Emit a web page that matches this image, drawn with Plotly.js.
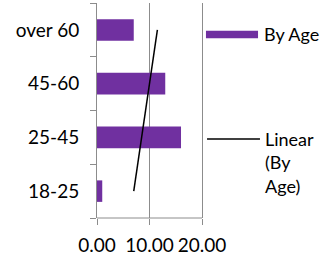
<!DOCTYPE html>
<html><head><meta charset="utf-8">
<script src="https://cdn.plot.ly/plotly-3.0.1.min.js"></script>
<style>html,body{margin:0;padding:0;background:#fff;}#c{width:320px;height:255px;}</style>
</head><body><div id="c"></div>
<script>
const categories = ['18-25', '25-45', '45-60', 'over 60'];
const byAge = [1.0, 16.0, 13.0, 7.0];
const trendCategories = ['18-25', 'over 60'];
const trendValues = [7.0, 11.5];
const xTicks = [0, 10, 20];
const seriesName = 'By Age';
const trendName = 'Linear<br>(By<br>Age)';

const purple = '#7030A0';
const gray = '#8c8c8c';
const font = {family: 'Lato, "Open Sans", sans-serif', size: 19, color: '#000'};
const legFont = {family: 'Lato, "Open Sans", sans-serif', size: 18, color: '#000'};

const data = [
  {type: 'bar', orientation: 'h', y: categories, x: byAge, width: 0.4,
   marker: {color: purple}, showlegend: false, hoverinfo: 'none'},
  {type: 'scatter', mode: 'lines', y: trendCategories, x: trendValues,
   line: {color: '#000', width: 1.5}, showlegend: false, hoverinfo: 'none'}
];

// plot area: x 97..205 (108px), range 0..20.57 so that 20 sits at ~202
const layout = {
  width: 320, height: 255,
  margin: {l: 97, r: 115, t: 3, b: 37},
  paper_bgcolor: '#fff', plot_bgcolor: '#fff',
  font: font,
  showlegend: false,
  xaxis: {range: [0, 20.57], tickvals: xTicks, tickformat: '.2f',
          showgrid: true, gridcolor: gray, gridwidth: 1, zeroline: false,
          showline: false,
          ticks: 'outside', ticklen: 6, tickcolor: gray, tickfont: font,
          ticklabelstandoff: 4},
  yaxis: {type: 'category', categoryorder: 'array', categoryarray: categories,
          range: [-0.5, 3.5], showgrid: false, zeroline: false,
          showline: true, linecolor: gray, linewidth: 1,
          ticks: 'outside', ticklen: 6, tickcolor: gray, tickson: 'boundaries',
          tickfont: font, ticklabelstandoff: 13},
  shapes: [
    {type: 'line', xref: 'x', yref: 'paper', x0: 0, x1: 20, y0: 0, y1: 0,
     line: {color: gray, width: 1}},
    {type: 'rect', xref: 'paper', yref: 'paper', x0: 1.009, x1: 1.491, y0: 0.836, y1: 0.871,
     fillcolor: purple, line: {width: 0}},
    {type: 'line', xref: 'paper', yref: 'paper', x0: 1.019, x1: 1.509, y0: 0.367, y1: 0.367,
     line: {color: '#000', width: 1.5}}
  ],
  annotations: [
    {xref: 'paper', yref: 'paper', x: 1.528, y: 0.856, xanchor: 'left', yanchor: 'middle',
     text: seriesName, showarrow: false, font: legFont, align: 'left'},
    {xref: 'paper', yref: 'paper', x: 1.537, y: 0.256, xanchor: 'left', yanchor: 'middle',
     text: trendName, showarrow: false, font: legFont, align: 'left'}
  ]
};

Plotly.newPlot('c', data, layout, {staticPlot: true, displayModeBar: false});
</script>
</body></html>
